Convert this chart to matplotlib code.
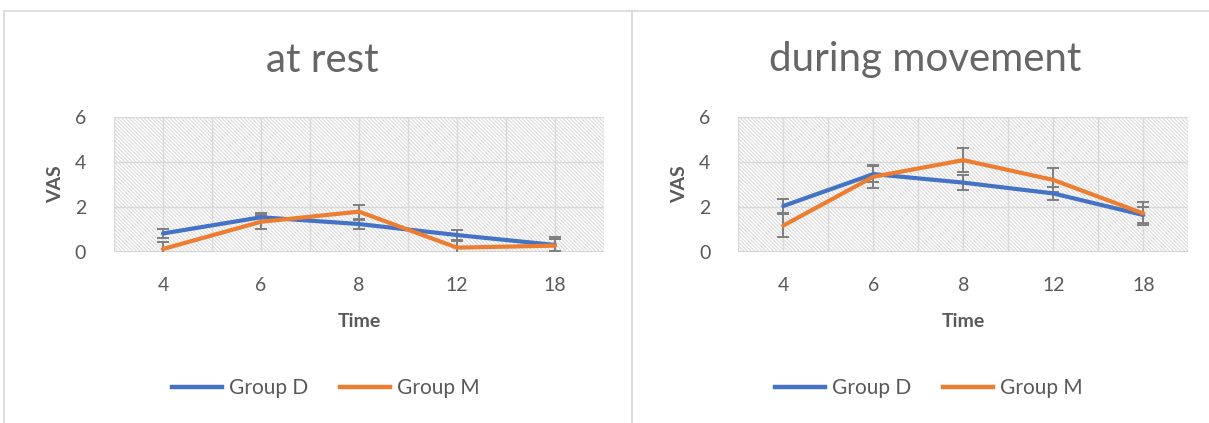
import matplotlib.pyplot as plt
from matplotlib.patches import Rectangle
from matplotlib.lines import Line2D

plt.rcParams['font.family'] = ['Lato', 'DejaVu Sans']
plt.rcParams['hatch.linewidth'] = 0.9

times = ['4', '6', '8', '12', '18']

# at rest
rest_d = [0.81, 1.53, 1.23, 0.74, 0.30]
rest_d_err = [0.20, 0.20, 0.20, 0.21, 0.25]
rest_m = [0.12, 1.33, 1.78, 0.18, 0.27]
rest_m_err = [0.30, 0.32, 0.31, 0.30, 0.37]

# during movement
move_d = [2.03, 3.45, 3.07, 2.59, 1.63]
move_d_err = [0.33, 0.36, 0.34, 0.30, 0.35]
move_m = [1.16, 3.33, 4.07, 3.19, 1.70]
move_m_err = [0.50, 0.52, 0.55, 0.52, 0.50]

blue = '#4472C4'
orange = '#ED7D31'
txt = '#595959'
grid = '#d9d9d9'

fig = plt.figure(figsize=(12.09, 4.23), dpi=100)

# chart borders
for x0, x1 in [(4, 632), (632, 1215)]:
    fig.patches.append(Rectangle((x0 / 1209, -0.1), (x1 - x0) / 1209, 1 - 11 / 423 + 0.1,
                                 transform=fig.transFigure, fill=False,
                                 edgecolor='#d9d9d9', lw=1.2))


def panel(rect, title, title_x, d, d_err, m, m_err, leg_x):
    ax = fig.add_axes(rect)
    x = range(len(times))
    ax.add_patch(Rectangle((0, 0), 1, 1, transform=ax.transAxes, facecolor='white',
                           hatch='\\' * 9, edgecolor='#dedede', lw=0, zorder=0))
    for k in range(11):
        ax.axvline(-0.5 + k * 0.5, color=grid, lw=1, zorder=1)
    for yv in [2, 4, 6]:
        ax.axhline(yv, color=grid, lw=1, zorder=1)
    ax.axhline(0, color='#d0d0d0', lw=1.3, zorder=1)

    ax.errorbar(x, d, yerr=d_err, fmt='none', ecolor='#7f7f7f', elinewidth=1.4,
                capsize=4, capthick=1.4, zorder=2)
    ax.errorbar(x, m, yerr=m_err, fmt='none', ecolor='#7f7f7f', elinewidth=1.4,
                capsize=4, capthick=1.4, zorder=2)
    ax.plot(x, d, color=blue, lw=3, zorder=3, solid_capstyle='round')
    ax.plot(x, m, color=orange, lw=3, zorder=3, solid_capstyle='round')

    ax.set_xlim(-0.5, 4.5)
    ax.set_ylim(0, 6)
    ax.set_yticks([0, 2, 4, 6])
    ax.set_xticks(list(x))
    ax.set_xticklabels(times)
    ax.tick_params(length=0, labelsize=14, colors=txt, pad=18)
    ax.tick_params(axis='y', pad=20)
    for s in ax.spines.values():
        s.set_visible(False)
    ax.set_xlabel('Time', fontsize=14, fontweight='bold', color=txt, labelpad=14)
    ax.set_ylabel('VAS', fontsize=14, fontweight='bold', color=txt, labelpad=8)

    fig.text(title_x / 1209, 1 - 60 / 423, title, ha='center', va='center',
             fontsize=29, color='#666666')

    handles = [Line2D([], [], color=blue, lw=3.2), Line2D([], [], color=orange, lw=3.2)]
    fig.legend(handles, ['Group D', 'Group M'], loc='center',
               bbox_to_anchor=(leg_x / 1209, 1 - 388 / 423), ncol=2, frameon=False,
               fontsize=15, labelcolor=txt, handlelength=2.4, handletextpad=0.35,
               columnspacing=1.5)
    return ax


panel([114 / 1209, 1 - 251.7 / 423, 490 / 1209, 135 / 423], 'at rest', 322,
      rest_d, rest_d_err, rest_m, rest_m_err, 326)
panel([738.3 / 1209, 1 - 251.7 / 423, 450 / 1209, 135 / 423], 'during movement', 925,
      move_d, move_d_err, move_m, move_m_err, 929)

fig.savefig('out.png', dpi=100)
